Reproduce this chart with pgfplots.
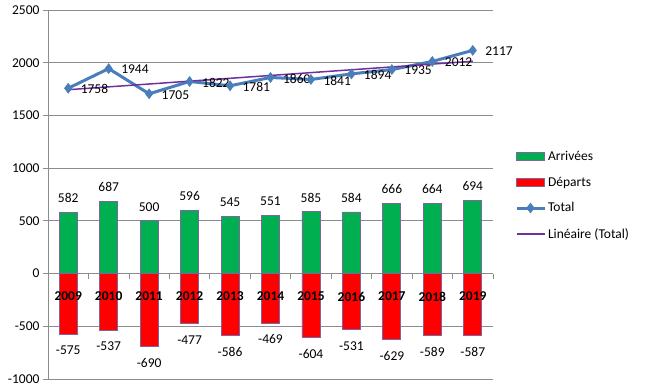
\documentclass[border=0pt]{standalone}
\usepackage{pgfplots}
\pgfplotsset{compat=1.18}
\usepackage{fontspec}
\setmainfont{Carlito}
\definecolor{cgreen}{HTML}{00B050}
\definecolor{cred}{HTML}{FF0000}
\definecolor{cblue}{HTML}{4A7EBB}
\definecolor{cpurple}{HTML}{7030A0}
\definecolor{cgrid}{HTML}{8C8C8C}
\definecolor{cedge}{HTML}{8064A2}
\newcommand{\fs}{\fontsize{13.5}{16}\selectfont}
\pgfplotsset{
  mybarleg/.style={legend image code/.code={\draw[##1, line width=0.8pt] (0pt,-4pt) rectangle (28pt,4pt);}},
  mymarkleg/.style={legend image code/.code={\draw[mark repeat=2, mark phase=2, ##1] plot coordinates {(0pt,0pt) (14pt,0pt) (28pt,0pt)};}},
  mylineleg/.style={legend image code/.code={\draw[##1] (0pt,0pt) -- (28pt,0pt);}},
}
\begin{document}
\begin{tikzpicture}
\begin{axis}[
  scale only axis, width=445pt, height=369pt,
  xmin=-0.5, xmax=10.5, ymin=-1000, ymax=2500,
  clip=false,
  font=\fs,
  /pgf/number format/assume math mode=true,
  /pgf/number format/1000 sep={},
  scaled y ticks=false,
  axis y line=left, axis x line=middle,
  axis line style={cgrid, line width=0.8pt, -},
  hide obscured x ticks=false, hide obscured y ticks=false,
  ytick={-1000,-500,...,2500},
  ymajorgrids, grid style={cgrid, line width=0.8pt},
  xtick={0,...,10},
  xticklabels={},
  minor xtick={-0.5,0.5,...,10.5},
  tick align=outside,
  major tick length=5pt, minor tick length=5pt,
  major x tick style={draw=none},
  minor x tick style={cgrid, line width=0.8pt},
  y tick style={cgrid, line width=0.8pt},
  yticklabel style={font=\fs},
  legend style={at={(1.049,0.6236)}, anchor=north west, draw=none, fill=none,
    font=\fs, row sep=11pt, inner sep=0pt, legend cell align=left,
    nodes={inner sep=2pt}},
]
\addplot[ybar, bar width=18pt, bar shift=0pt, fill=cgreen, draw=cedge, line width=0.8pt,
  nodes near coords, nodes near coords style={anchor=south, yshift=6pt, text=black, font=\fs},
  mybarleg]
  coordinates {(0,582) (1,687) (2,500) (3,596) (4,545) (5,551) (6,585) (7,584) (8,666) (9,664) (10,694)};
\addlegendentry{Arrivées}
\addplot[ybar, bar width=18pt, bar shift=0pt, fill=cred, draw=cedge, line width=0.8pt,
  nodes near coords, nodes near coords style={anchor=north, yshift=-8pt, text=black, font=\fs},
  mybarleg]
  coordinates {(0,-575) (1,-537) (2,-690) (3,-477) (4,-586) (5,-469) (6,-604) (7,-531) (8,-629) (9,-589) (10,-587)};
\addlegendentry{Départs}
\addplot[draw=none, mark=none, forget plot,
  nodes near coords, point meta=explicit symbolic,
  nodes near coords style={anchor=center, yshift=-23pt, text=black, font=\fs\bfseries, inner sep=0pt}]
  coordinates {(0,0) [2009] (1,0) [2010] (2,0) [2011] (3,0) [2012] (4,0) [2013] (5,0) [2014]
               (6,0) [2015] (7,0) [2016] (8,0) [2017] (9,0) [2018] (10,0) [2019]};
\addplot[cblue, line width=3pt, mark=diamond*, mark size=5pt,
  mark options={fill=cblue, draw=cblue, line width=0.5pt, solid},
  nodes near coords, nodes near coords style={anchor=west, xshift=9pt, yshift=-1pt, text=black, font=\fs},
  mymarkleg]
  coordinates {(0,1758) (1,1944) (2,1705) (3,1822) (4,1781) (5,1860) (6,1841) (7,1894) (8,1935) (9,2012) (10,2117)};
\addlegendentry{Total}
\addplot[cpurple, line width=1.5pt, mylineleg]
  coordinates {(0,1744) (10,2014)};
\addlegendentry{Linéaire (Total)}
\end{axis}
\pgfresetboundingbox
\path[use as bounding box] ([xshift=-48pt,yshift=-8pt]current axis.south west) rectangle ([xshift=154pt,yshift=10pt]current axis.north east);
\end{tikzpicture}
\end{document}
